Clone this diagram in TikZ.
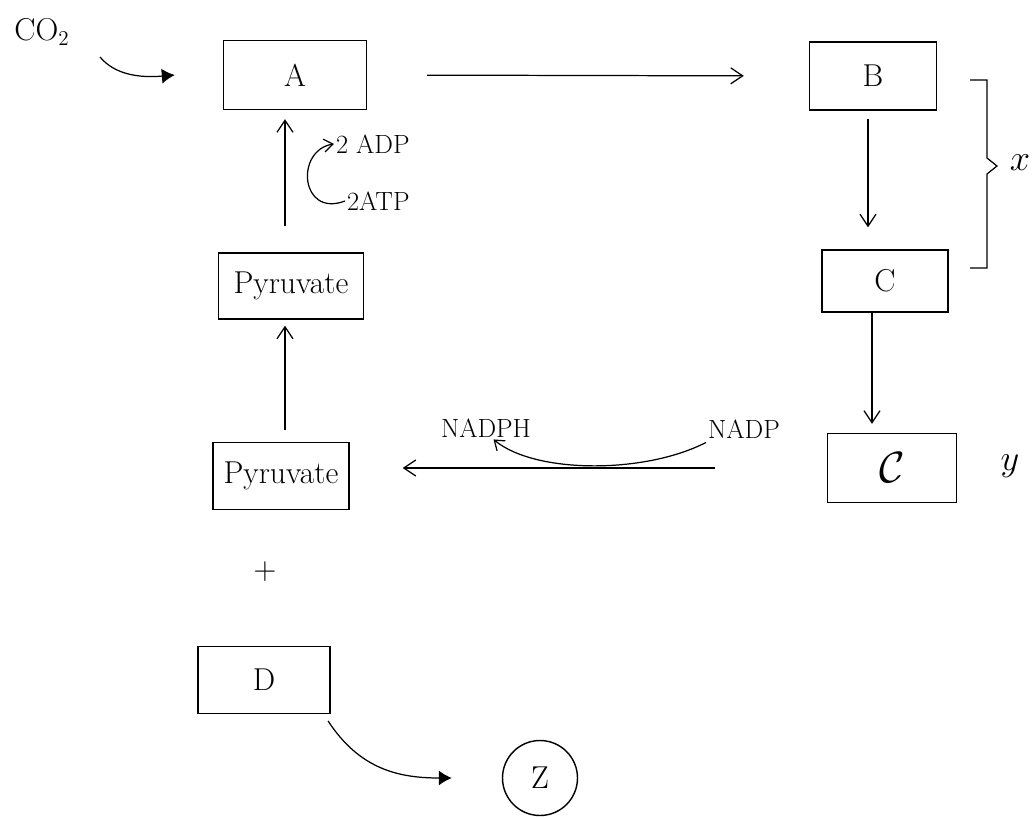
\documentclass[tikz,border=0pt]{standalone}
\usetikzlibrary{arrows.meta,calc}
\begin{document}
\begin{tikzpicture}[x=0.02cm,y=-0.02cm,
  box/.style={draw,line width=0.8pt,inner sep=0pt,font=\fontsize{18}{21}\selectfont},
  flow/.style={line width=0.7pt,-{Straight Barb[length=2.4mm,width=3.2mm]}},
  solid tip/.style={line width=0.7pt,-{Latex[length=2.6mm,width=3mm]}},
  lbl/.style={inner sep=1pt,font=\fontsize{15}{17}\selectfont}
]
\useasboundingbox (0,0) rectangle (1036,818);
% boxes
\node[box,minimum width=2.86cm,minimum height=1.38cm] (A) at (295,75) {A};
\node[box,minimum width=2.54cm,minimum height=1.36cm] (B) at (873,76) {B};
\node[box,minimum width=2.52cm,minimum height=1.24cm] (C1) at (885,281) {C};
\node[box,minimum width=2.58cm,minimum height=1.38cm,font=\fontsize{24}{26}\selectfont] (C2) at (892,468) {$\mathcal{C}$};
\node[box,minimum width=2.90cm,minimum height=1.32cm] (P1) at (291,286) {Pyruvate};
\node[box,minimum width=2.72cm,minimum height=1.34cm] (P2) at (281,476) {Pyruvate};
\node[box,minimum width=2.64cm,minimum height=1.34cm] (D) at (264,680) {D};
\node[draw,circle,line width=0.8pt,minimum size=1.5cm,inner sep=0pt,font=\fontsize{18}{21}\selectfont] (Z) at (540,778) {Z};
% labels
\node[font=\fontsize{18}{21}\selectfont] (CO2) at (42,32) {CO$_2$};
\coordinate (co2s) at (100,57);
\node[lbl,anchor=west] (ADP) at (334,144) {2 ADP};
\node[lbl,anchor=west] (ATP) at (345,201) {2ATP};
\node[lbl] (NADPH) at (486,428) {NADPH};
\node[lbl] (NADP) at (744,429) {NADP};
\node[font=\fontsize{18}{21}\selectfont] (plus) at (265,572) {+};
\node[font=\fontsize{22}{24}\selectfont] (xl) at (1020,163) {$x$};
\node[font=\fontsize{20}{22}\selectfont] (yl) at (1010,466) {$y$};
% brace
\coordinate (bt) at (970,80);
\coordinate (bb) at (970,268);
\draw[line width=0.7pt] (bt) -- (987,80) -- (987,158) -- (997,166) -- (987,174) -- (987,268) -- (bb);
% connectors
\draw[solid tip] (co2s) .. controls (115,75) and (140,78) .. ([xshift=-0.96cm]A.west);
\draw[flow,shorten <=1.2cm,shorten >=1.3cm] (A.east) -- (B.west);
\draw[flow,shorten <=0.16cm,shorten >=0.44cm] ([xshift=-0.1cm]B.south) -- ([xshift=-0.1cm]B.south |- C1.north);
\draw[flow,shorten <=0cm,shorten >=0.18cm] ([xshift=-0.26cm]C1.south) -- ([xshift=-0.26cm]C1.south |- C2.north);
\draw[flow,shorten <=2.24cm,shorten >=1.06cm] (C2.west) -- (C2.west -| P2.east);
\draw[flow,shorten <=0.24cm,shorten >=0.12cm] ([xshift=0.08cm]P2.north) -- ([xshift=0.08cm]P2.north |- P1.south);
\draw[flow,shorten <=0.52cm,shorten >=0.18cm] ([xshift=-0.12cm]P1.north) -- ([xshift=-0.12cm]P1.north |- A.south);
\draw[line width=0.7pt,-{Straight Barb[length=1.8mm,width=2.6mm]}] (ATP.west) .. controls (300,218) and (295,150) .. (ADP.west);
\draw[line width=0.7pt,-{Straight Barb[length=1.8mm,width=2.6mm]}] ([yshift=-0.04cm]NADP.south west) .. controls (645,474) and (535,474) .. ([xshift=0.15cm]NADPH.south);
\draw[solid tip,shorten <=0.16cm,shorten >=1.0cm] ([xshift=-0.14cm]D.south east) .. controls (360,770) and (400,778) .. (Z.west);
\end{tikzpicture}
\end{document}
